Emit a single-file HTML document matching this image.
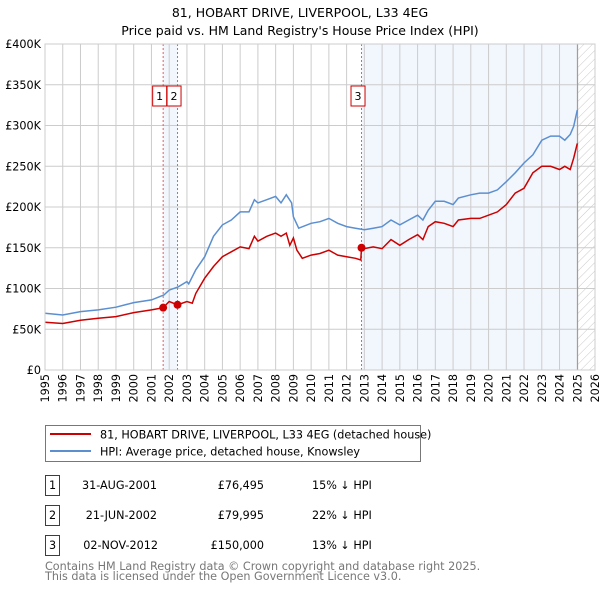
<!DOCTYPE html>
<html><head><meta charset="utf-8"><style>
body{margin:0;background:#fff;font-family:"DejaVu Sans","Liberation Sans",sans-serif;}
svg text{font-family:"DejaVu Sans","Liberation Sans",sans-serif;}
</style></head><body>
<svg id="c" width="600" height="590" xmlns="http://www.w3.org/2000/svg">
<defs><pattern id="hatch" width="6" height="6" patternUnits="userSpaceOnUse" patternTransform="rotate(45)"><line x1="0" y1="0" x2="0" y2="6" stroke="#bbb" stroke-width="0.8"/></pattern></defs>
<text x="300" y="17" text-anchor="middle" font-size="12.5">81, HOBART DRIVE, LIVERPOOL, L33 4EG</text>
<text x="300" y="35" text-anchor="middle" font-size="12.5">Price paid vs. HM Land Registry's House Price Index (HPI)</text>
<g id="plot"></g>
<g>
<rect x="45.5" y="425.5" width="375" height="36" fill="#fff" stroke="#777"/>
<line x1="50" y1="434" x2="91" y2="434" stroke="#cc0000" stroke-width="2"/>
<text x="100" y="438.5" font-size="11.2">81, HOBART DRIVE, LIVERPOOL, L33 4EG (detached house)</text>
<line x1="50" y1="451" x2="91" y2="451" stroke="#5b8fd0" stroke-width="2"/>
<text x="100" y="455.5" font-size="11.2">HPI: Average price, detached house, Knowsley</text>
</g>
<g font-size="11.2">
<rect x="45.5" y="475.5" width="14" height="20" fill="#fff" stroke="#cc0000"/>
<text x="52.5" y="489" text-anchor="middle">1</text>
<text x="157" y="489" text-anchor="end">31-AUG-2001</text>
<text x="264" y="489" text-anchor="end">£76,495</text>
<text x="312" y="489">15% ↓ HPI</text>
<rect x="45.5" y="505.5" width="14" height="20" fill="#fff" stroke="#cc0000"/>
<text x="52.5" y="519" text-anchor="middle">2</text>
<text x="157" y="519" text-anchor="end">21-JUN-2002</text>
<text x="264" y="519" text-anchor="end">£79,995</text>
<text x="312" y="519">22% ↓ HPI</text>
<rect x="45.5" y="535.5" width="14" height="20" fill="#fff" stroke="#cc0000"/>
<text x="52.5" y="549" text-anchor="middle">3</text>
<text x="158" y="549" text-anchor="end">02-NOV-2012</text>
<text x="264" y="549" text-anchor="end">£150,000</text>
<text x="312" y="549">13% ↓ HPI</text>
</g>
<text x="45" y="570" font-size="11.2" fill="#777">Contains HM Land Registry data © Crown copyright and database right 2025.</text>
<text x="45" y="580" font-size="11.2" fill="#777">This data is licensed under the Open Government Licence v3.0.</text>
</svg>
<script>
const yearTicks=[1995,1996,1997,1998,1999,2000,2001,2002,2003,2004,2005,2006,2007,2008,2009,2010,2011,2012,2013,2014,2015,2016,2017,2018,2019,2020,2021,2022,2023,2024,2025,2026];
const valueTicks=[0,50,100,150,200,250,300,350,400];
const valueLabels=["£0","£50K","£100K","£150K","£200K","£250K","£300K","£350K","£400K"];
const hpiYears=[1995,1996,1997,1998,1999,2000,2001,2001.7,2002,2002.5,2003,2003.1,2003.5,2004,2004.5,2005,2005.5,2006,2006.5,2006.8,2007,2007.5,2008,2008.3,2008.6,2008.9,2009,2009.3,2010,2010.5,2011,2011.5,2012,2012.5,2013,2013.5,2014,2014.5,2015,2015.5,2016,2016.3,2016.6,2017,2017.5,2018,2018.3,2019,2019.5,2020,2020.5,2021,2021.5,2022,2022.5,2023,2023.5,2024,2024.3,2024.6,2024.8,2025];
const hpiValues=[69.6,67.5,71.6,73.7,77,82.7,86,92,98,102,108.5,105.6,123,139,164,178,184,194,194,209,205,209,213,205,215,205,188,174,180,182,186,180,176,174,172,174,176,184,178,184,190,184,196,207,207,203,211,215,217,217,221,231,242,254,264,282,287,287,282,289,299,319];
const ppYears=[1995,1996,1997,1998,1999,2000,2001,2001.66,2002,2002.47,2003,2003.3,2003.5,2004,2004.5,2005,2005.5,2006,2006.5,2006.8,2007,2007.5,2008,2008.3,2008.6,2008.8,2009,2009.2,2009.5,2010,2010.5,2011,2011.5,2012,2012.5,2012.8,2012.84,2013,2013.5,2014,2014.5,2015,2015.5,2016,2016.3,2016.6,2017,2017.5,2018,2018.3,2019,2019.5,2020,2020.5,2021,2021.5,2022,2022.5,2023,2023.5,2024,2024.3,2024.6,2024.8,2025];
const ppValues=[58.5,57,61,63.5,65.5,70.4,73.7,76.5,84,80,84,82,94,112.6,127,139,145,151,149,164,158,164,168,164,168,153,162,147,137,141,143,147,141,139,137,135,150,149,151,149,160,153,160,166,160,176,182,180,176,184,186,186,190,194,203,217,223,242,250,250,246,250,246,260,278];
const saleYears=[2001.66,2002.47,2012.84];
const saleValues=[76.495,79.995,150];
const saleLabels=["1","2","3"];
const NS="http://www.w3.org/2000/svg";
const L=45,R=595,T=44,B=370;
const xs=y=>L+(y-1995)*(R-L)/31;
const ys=v=>B-v*(B-T)/400;
const g=document.getElementById('plot');
function mk(t,a,p){const e=document.createElementNS(NS,t);for(const k in a)e.setAttribute(k,a[k]);(p||g).appendChild(e);return e;}
let e=mk('rect',{x:xs(saleYears[2]),y:T,width:xs(2025.02)-xs(saleYears[2]),height:B-T,fill:'#eef3fc',opacity:0.75});


e=mk('rect',{x:xs(saleYears[0]),y:T,width:xs(saleYears[1])-xs(saleYears[0]),height:B-T,fill:'#eef3fc',opacity:0.75});


e=mk('rect',{x:xs(2025.02),y:T,width:R-xs(2025.02),height:B-T,fill:'url(#hatch)'});


yearTicks.forEach(yr=>{
 e=mk('line',{x1:xs(yr),x2:xs(yr),y1:T,y2:B,stroke:'#ccc','stroke-width':1});
 
 
 const x=xs(yr)+4,y=B+4;
 e=mk('text',{x:x,y:y,'font-size':11.2,'text-anchor':'end',transform:`rotate(-90 ${x} ${y})`});
 e.textContent=yr;
 
 
});
valueTicks.forEach((v,i)=>{
 e=mk('line',{x1:L,x2:R,y1:ys(v),y2:ys(v),stroke:'#ccc','stroke-width':1});
 
 
 e=mk('text',{x:L-4,y:ys(v)+4,'font-size':11.2,'text-anchor':'end'});
 e.textContent=valueLabels[i];
 
 
});
e=mk('line',{x1:xs(2025.02),x2:xs(2025.02),y1:T,y2:B,stroke:'#999','stroke-width':1});


saleYears.forEach((yr,i)=>{
 e=mk('line',{x1:xs(yr),x2:xs(yr),y1:T,y2:B,stroke:'#e06060','stroke-width':1,'stroke-dasharray':'2,2'});
 
 
});
function line(xa,va,col,name){
 const d=xa.map((x,i)=>(i?'L':'M')+xs(x).toFixed(1)+','+ys(va[i]).toFixed(1)).join('');
 const p=mk('path',{d:d,fill:'none',stroke:col,'stroke-width':1.5});
 
 
}
line(hpiYears,hpiValues,'#5b8fd0','hpi-line');
line(ppYears,ppValues,'#cc0000','price-paid-line');
saleYears.forEach((yr,i)=>{
 e=mk('circle',{cx:xs(yr),cy:ys(saleValues[i]),r:4,fill:'#cc0000'});
 
 
 const bx=xs(yr)-10.5;
 e=mk('rect',{x:bx,y:86,width:14,height:20,fill:'#fff',stroke:'#cc0000'});
 
 
 e=mk('text',{x:bx+7,y:100,'font-size':11,'text-anchor':'middle'});
 e.textContent=saleLabels[i];
 
 
});
e=mk('rect',{x:L,y:T,width:R-L,height:B-T,fill:'none',stroke:'#ccc'});


</script>
</body></html>
